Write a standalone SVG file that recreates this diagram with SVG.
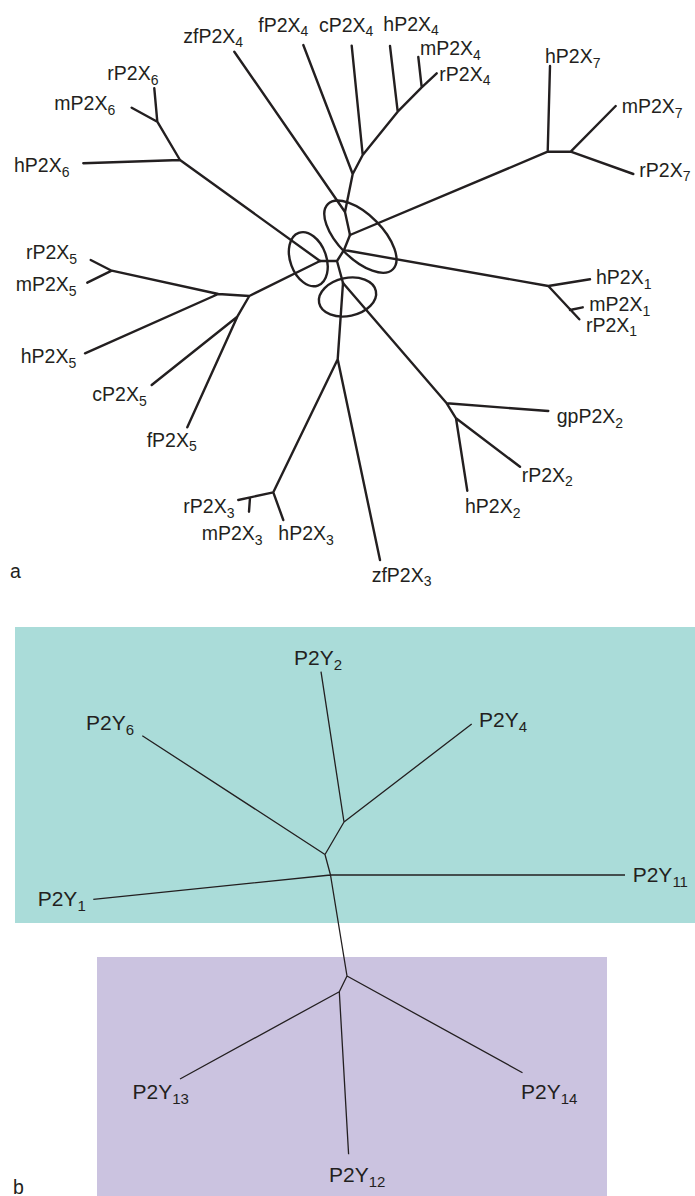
<svg xmlns="http://www.w3.org/2000/svg" width="695" height="1196" viewBox="0 0 695 1196">
<style>
text{font-family:"Liberation Sans",Arial,sans-serif;fill:#231f20}
.a{font-size:19.5px}
.b{font-size:21px}
.sa{font-size:14px}
.sb{font-size:15px}
.ea{fill:none;stroke:#231f20;stroke-width:2.4;stroke-linecap:round;stroke-linejoin:round}
.eb{fill:none;stroke:#231f20;stroke-width:1.3;stroke-linejoin:round}
.ring{fill:none;stroke:#231f20;stroke-width:2.4}
</style>
<rect x="0" y="0" width="695" height="1196" fill="#ffffff"/>
<rect id="panel-b-cyan" x="15" y="627" width="680" height="296" fill="#aadcd9"/>
<rect id="panel-b-purple" x="97" y="957" width="510" height="239" fill="#cbc3e0"/>

<g id="connectors-a">
<path class="ea" d="M234.3,51.7 L345,212 M345,212 L352.7,174 M345,212 L350,235 M303.3,45 L352.7,174 L362.7,155 M351.7,45.7 L362.7,155 L397.7,111.7 L421.7,87.3 L436.7,73.3 M390,46 L397.7,111.7 M418.3,57 L421.7,87.3"/>
<path class="ea" d="M350,235 L547.7,151.7 L570.7,151.7 L615.7,106 M570.7,151.7 L633.3,174 M547.7,151.7 L550,66"/>
<path class="ea" d="M350,235 L344,250 L548.3,286 L590,279.3 M548.3,286 L579.3,319.3 M570,310 L582.7,307.3"/>
<path class="ea" d="M344,250 L337,261 L320,261 M337,261 L343,283"/>
<path class="ea" d="M320,261 L180,160 L157.3,121.7 L154.3,88.3 M157.3,121.7 L131.7,107.7 M180,160 L83.3,163.3"/>
<path class="ea" d="M320,261 L249.3,296 L218.3,294 L111.7,270.7 L90.7,260 M111.7,270.7 L87.3,282.7 M218.3,294 L85,353.3 M249.3,296 L237.3,316.7 L151.7,385 M237.3,316.7 L187.3,427.3"/>
<path class="ea" d="M343,283 L337.7,359.3 L273.3,492.3 L238.3,500 M250,497.7 L249,511.7 M273.3,492.3 L283.3,520 M337.7,359.3 L380,560"/>
<path class="ea" d="M343,283 L446.7,403.3 L548.3,411 M446.7,403.3 L456,418.3 L520,466.7 M456,418.3 L467.3,490.7"/>
<ellipse class="ring" cx="0" cy="0" rx="18" ry="28" transform="translate(308.3,259.2) rotate(-20)"/>
<ellipse class="ring" cx="0" cy="0" rx="46" ry="22" transform="translate(360.4,236.7) rotate(45)"/>
<ellipse class="ring" cx="0" cy="0" rx="29" ry="19" transform="translate(347.5,297) rotate(-12)"/>
</g>

<g id="nodes-a">
<g id="zfP2X4"><text class="a" x="183.3" y="42.7">zfP2X<tspan class="sa" dy="4.5">4</tspan></text></g>
<g id="fP2X4"><text class="a" x="258.3" y="31.7">fP2X<tspan class="sa" dy="4.5">4</tspan></text></g>
<g id="cP2X4"><text class="a" x="319" y="31.7">cP2X<tspan class="sa" dy="4.5">4</tspan></text></g>
<g id="hP2X4"><text class="a" x="383.3" y="31">hP2X<tspan class="sa" dy="4">4</tspan></text></g>
<g id="mP2X4"><text class="a" x="420" y="55">mP2X<tspan class="sa" dy="4.5">4</tspan></text></g>
<g id="rP2X4"><text class="a" x="439.3" y="80.5">rP2X<tspan class="sa" dy="4.5">4</tspan></text></g>
<g id="hP2X7"><text class="a" x="545" y="63.3">hP2X<tspan class="sa" dy="4.5">7</tspan></text></g>
<g id="mP2X7"><text class="a" x="621.7" y="113.3">mP2X<tspan class="sa" dy="4.5">7</tspan></text></g>
<g id="rP2X7"><text class="a" x="639.3" y="176.7">rP2X<tspan class="sa" dy="4.5">7</tspan></text></g>
<g id="rP2X6"><text class="a" x="107.3" y="80">rP2X<tspan class="sa" dy="4.5">6</tspan></text></g>
<g id="mP2X6"><text class="a" x="54.3" y="110">mP2X<tspan class="sa" dy="4.5">6</tspan></text></g>
<g id="hP2X6"><text class="a" x="14" y="172.3">hP2X<tspan class="sa" dy="4.5">6</tspan></text></g>
<g id="rP2X5"><text class="a" x="26" y="259.3">rP2X<tspan class="sa" dy="4.5">5</tspan></text></g>
<g id="mP2X5"><text class="a" x="15.7" y="291">mP2X<tspan class="sa" dy="4.5">5</tspan></text></g>
<g id="hP2X5"><text class="a" x="20.7" y="363.3">hP2X<tspan class="sa" dy="4.5">5</tspan></text></g>
<g id="cP2X5"><text class="a" x="92.3" y="401">cP2X<tspan class="sa" dy="4.5">5</tspan></text></g>
<g id="fP2X5"><text class="a" x="146.7" y="446.7">fP2X<tspan class="sa" dy="4.5">5</tspan></text></g>
<g id="hP2X1"><text class="a" x="596" y="284.3">hP2X<tspan class="sa" dy="4.5">1</tspan></text></g>
<g id="mP2X1"><text class="a" x="589.3" y="311">mP2X<tspan class="sa" dy="4.5">1</tspan></text></g>
<g id="rP2X1"><text class="a" x="586" y="331.7">rP2X<tspan class="sa" dy="4.5">1</tspan></text></g>
<g id="gpP2X2"><text class="a" x="556.7" y="423.3">gpP2X<tspan class="sa" dy="4.5">2</tspan></text></g>
<g id="rP2X2"><text class="a" x="521.7" y="481.7">rP2X<tspan class="sa" dy="4.5">2</tspan></text></g>
<g id="hP2X2"><text class="a" x="465" y="513">hP2X<tspan class="sa" dy="4.5">2</tspan></text></g>
<g id="rP2X3"><text class="a" x="183.3" y="513.3">rP2X<tspan class="sa" dy="4.5">3</tspan></text></g>
<g id="mP2X3"><text class="a" x="201.7" y="540">mP2X<tspan class="sa" dy="4.5">3</tspan></text></g>
<g id="hP2X3"><text class="a" x="278.3" y="540">hP2X<tspan class="sa" dy="4.5">3</tspan></text></g>
<g id="zfP2X3"><text class="a" x="371.7" y="581.7">zfP2X<tspan class="sa" dy="4.5">3</tspan></text></g>
</g>
<text class="a" x="10" y="578">a</text>

<g id="connectors-b">
<path class="eb" d="M321,671.7 L344,822 L471.7,724 M344,822 L325,854.5 L142.3,735.7 M325,854.5 L330.5,875 L93.3,899.3 M330.5,875 L625,875 M330.5,875 L347,976 L522.5,1072.7 M347,976 L339.3,991.7 L180,1079 M339.3,991.7 L348.6,1154.3"/>
</g>

<g id="nodes-b">
<g id="P2Y2"><text class="b" x="294" y="665">P2Y<tspan class="sb" dy="5">2</tspan></text></g>
<g id="P2Y6"><text class="b" x="86" y="730">P2Y<tspan class="sb" dy="5">6</tspan></text></g>
<g id="P2Y4"><text class="b" x="479" y="726.7">P2Y<tspan class="sb" dy="5">4</tspan></text></g>
<g id="P2Y1"><text class="b" x="37.7" y="906">P2Y<tspan class="sb" dy="5">1</tspan></text></g>
<g id="P2Y11"><text class="b" x="632.7" y="881.7">P2Y<tspan class="sb" dy="5">11</tspan></text></g>
<g id="P2Y13"><text class="b" x="132.5" y="1099">P2Y<tspan class="sb" dy="5">13</tspan></text></g>
<g id="P2Y14"><text class="b" x="521" y="1099">P2Y<tspan class="sb" dy="5">14</tspan></text></g>
<g id="P2Y12"><text class="b" x="329" y="1182">P2Y<tspan class="sb" dy="5">12</tspan></text></g>
</g>
<text class="a" x="13" y="1194">b</text>
</svg>
